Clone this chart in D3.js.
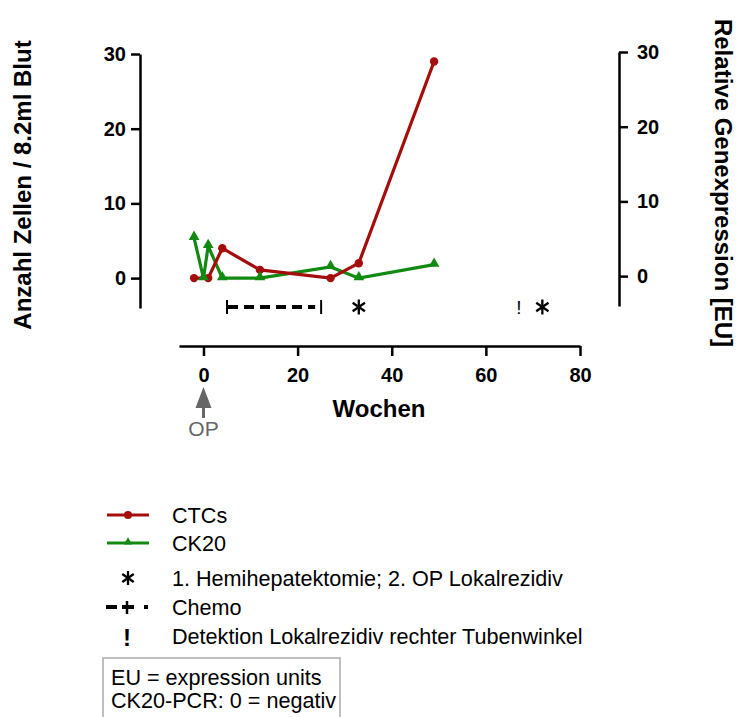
<!DOCTYPE html>
<html><head><meta charset="utf-8">
<script src="https://cdn.jsdelivr.net/npm/d3@7"></script>
<style>body{margin:0;background:#fff}svg{display:block;font-family:"Liberation Sans",Arial,sans-serif}</style>
</head><body><svg id="c" width="740" height="717"></svg>
<script>
const ctcWeeks = [-2, 1, 4, 12, 27, 33, 49];
const ctcValues = [0, 0, 4, 1.1, 0, 2, 29];
const ck20Weeks = [-2, 0, 1, 4, 12, 27, 33, 49];
const ck20Values = [5.4, 0, 4.3, 0, 0, 1.5, 0, 1.8];
const chemoRange = [5, 25];
const surgeryWeeks = [33, 72];
const detectionWeeks = [67];
const eventLevel = -4;
const xTicks = [0, 20, 40, 60, 80];
const yTicks = [0, 10, 20, 30];
const legendLabels = ["CTCs", "CK20", "1. Hemihepatektomie; 2. OP Lokalrezidiv", "Chemo", "Detektion Lokalrezidiv rechter Tubenwinkel"];
const noteLines = ["EU = expression units", "CK20-PCR: 0 = negativ"];

const svg = d3.select("#c");
const x = d3.scaleLinear().domain([-5.2, 80]).range([179, 580]);
const y = d3.scaleLinear().domain([-4, 30]).range([308, 54]);
const yR = d3.scaleLinear().domain([-4, 30]).range([306, 52]);
const red = "#a50d0d", green = "#128a12";

// axes
const gL = svg.append("g").attr("transform", "translate(140,0)")
  .call(d3.axisLeft(y).tickValues(yTicks).tickSize(9).tickPadding(5).tickSizeOuter(0));
const gR = svg.append("g").attr("transform", "translate(619,0)")
  .call(d3.axisRight(yR).tickValues(yTicks).tickSize(9).tickPadding(9).tickSizeOuter(0));
const gX = svg.append("g").attr("transform", "translate(0,346)")
  .call(d3.axisBottom(x).tickValues(xTicks).tickSize(10).tickPadding(12).tickSizeOuter(0));
[gL, gR, gX].forEach(g => {
  g.select(".domain").attr("stroke", "#000").attr("stroke-width", 2.5);
  g.selectAll(".tick line").attr("stroke", "#000").attr("stroke-width", 2.5);
  g.selectAll(".tick text").attr("fill", "#000").attr("font-family", "Liberation Sans, Arial, sans-serif")
    .attr("font-size", 20).attr("font-weight", "bold");
});

// axis titles
svg.append("text").attr("transform", "translate(31,185) rotate(-90)").attr("text-anchor", "middle")
  .attr("font-size", 24).attr("font-weight", "bold").text("Anzahl Zellen / 8.2ml Blut");
svg.append("text").attr("transform", "translate(715,183) rotate(90)").attr("text-anchor", "middle")
  .attr("font-size", 24).attr("font-weight", "bold").text("Relative Genexpression [EU]");
svg.append("text").attr("x", 379).attr("y", 417).attr("text-anchor", "middle")
  .attr("font-size", 24).attr("font-weight", "bold").text("Wochen");

// OP arrow
const opX = x(0);
svg.append("line").attr("x1", opX).attr("x2", opX).attr("y1", 405).attr("y2", 418).attr("stroke", "#666").attr("stroke-width", 3);
svg.append("path").attr("d", `M${opX},387 L${opX - 8},408 L${opX + 8},408 Z`).attr("fill", "#666");
svg.append("text").attr("x", opX).attr("y", 436).attr("text-anchor", "middle").attr("font-size", 21).attr("fill", "#666").text("OP");

// series
const line = d3.line().x(d => x(d[0])).y(d => y(d[1]));
const ctc = ctcWeeks.map((w, i) => [w, ctcValues[i]]);
const ck = ck20Weeks.map((w, i) => [w, ck20Values[i]]);
svg.append("path").datum(ck).attr("d", line).attr("fill", "none").attr("stroke", green).attr("stroke-width", 3.2).attr("stroke-linejoin", "miter");
svg.append("path").datum(ctc).attr("d", line).attr("fill", "none").attr("stroke", red).attr("stroke-width", 3.2);
svg.selectAll(".ctcpt").data(ctc).join("circle").attr("cx", d => x(d[0])).attr("cy", d => y(d[1])).attr("r", 4.2).attr("fill", red);
const tri = d3.symbol().type(d3.symbolTriangle).size(50);
svg.selectAll(".ckpt").data(ck).join("path").attr("d", tri)
  .attr("transform", d => `translate(${x(d[0])},${y(d[1]) - 1})`).attr("fill", green);

// asterisk helper
function asterisk(cx, cy, r) {
  const g = svg.append("g").attr("transform", `translate(${cx},${cy})`);
  [90, 35, -35].forEach(a => {
    const rad = a * Math.PI / 180, dx = Math.cos(rad) * r, dy = Math.sin(rad) * r;
    g.append("line").attr("x1", -dx).attr("y1", -dy).attr("x2", dx).attr("y2", dy)
      .attr("stroke", "#000").attr("stroke-width", 2.3);
  });
}

// chemo
const cy = y(eventLevel) - 1;
svg.append("line").attr("x1", x(chemoRange[0])).attr("x2", x(chemoRange[0])).attr("y1", cy - 7).attr("y2", cy + 7).attr("stroke", "#000").attr("stroke-width", 2);
svg.append("line").attr("x1", x(chemoRange[1])).attr("x2", x(chemoRange[1])).attr("y1", cy - 7).attr("y2", cy + 7).attr("stroke", "#000").attr("stroke-width", 2);
svg.append("line").attr("x1", x(chemoRange[0]) + 1).attr("x2", x(chemoRange[1]) - 6).attr("y1", cy).attr("y2", cy)
  .attr("stroke", "#000").attr("stroke-width", 4).attr("stroke-dasharray", "10,6");

// surgeries / detection
surgeryWeeks.forEach(w => asterisk(x(w), cy, 7.5));
detectionWeeks.forEach(w => {
  svg.append("text").attr("x", x(w)).attr("y", cy + 7).attr("text-anchor", "middle").attr("font-size", 19).attr("fill", "#000").text("!");
});

// legend
const lx = 172, ly = [515, 543, 578, 607, 636];
legendLabels.forEach((t, i) => {
  svg.append("text").attr("x", lx).attr("y", ly[i] + 8).attr("font-size", 21.6).text(t);
});
svg.append("line").attr("x1", 107).attr("x2", 149).attr("y1", ly[0]).attr("y2", ly[0]).attr("stroke", red).attr("stroke-width", 3.2);
svg.append("circle").attr("cx", 128).attr("cy", ly[0]).attr("r", 4).attr("fill", red);
svg.append("line").attr("x1", 107).attr("x2", 149).attr("y1", ly[1]).attr("y2", ly[1]).attr("stroke", green).attr("stroke-width", 3.2);
svg.append("path").attr("d", d3.symbol().type(d3.symbolTriangle).size(30)).attr("transform", `translate(128,${ly[1] - 1})`).attr("fill", green);
asterisk(128, ly[2], 7);
svg.append("line").attr("x1", 106).attr("x2", 117).attr("y1", ly[3]).attr("y2", ly[3]).attr("stroke", "#000").attr("stroke-width", 4);
svg.append("line").attr("x1", 122).attr("x2", 134).attr("y1", ly[3]).attr("y2", ly[3]).attr("stroke", "#000").attr("stroke-width", 4);
svg.append("line").attr("x1", 127).attr("x2", 127).attr("y1", ly[3] - 6).attr("y2", ly[3] + 7).attr("stroke", "#000").attr("stroke-width", 2.5);
svg.append("line").attr("x1", 144).attr("x2", 148).attr("y1", ly[3]).attr("y2", ly[3]).attr("stroke", "#000").attr("stroke-width", 4);
svg.append("text").attr("x", 127).attr("y", ly[4] + 10).attr("text-anchor", "middle").attr("font-size", 24).attr("font-weight", "bold").text("!");

// note box
svg.append("rect").attr("x", 103).attr("y", 658).attr("width", 237).attr("height", 70).attr("fill", "none").attr("stroke", "#aaa").attr("stroke-width", 1.5);
noteLines.forEach((t, i) => {
  svg.append("text").attr("x", 111).attr("y", 685 + i * 23).attr("font-size", 21.6).text(t);
});
</script></body></html>
